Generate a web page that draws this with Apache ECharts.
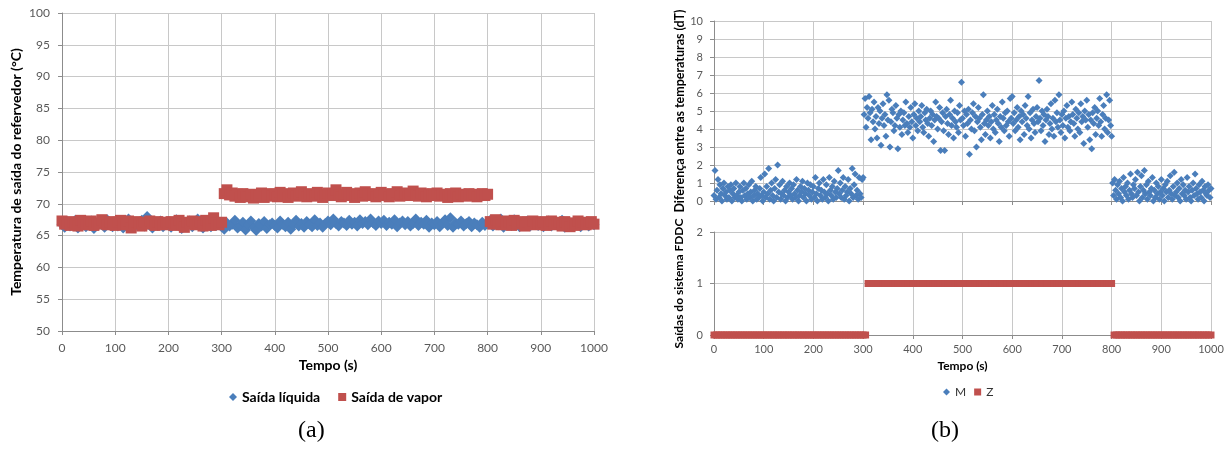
<!DOCTYPE html>
<html><head><meta charset="utf-8">
<script src="https://cdn.jsdelivr.net/npm/echarts@6/dist/echarts.min.js"></script>
<style>html,body{margin:0;padding:0;background:#fff}#c{width:1231px;height:453px}</style>
</head><body><div id="c"></div>
<script>
// ---- sampling steps (s) ----
const stepTemp = 5;   // left chart samples
const stepM = 2;      // dT samples
const stepZ = 5;      // FDDC output samples

// ---- tick labels ----
const tempTicks = [50,55,60,65,70,75,80,85,90,95,100];
const timeTicks = [0,100,200,300,400,500,600,700,800,900,1000];

// ---- (a) Saída líquida, °C, t = 0..1000 step 5 ----
const saidaLiquida = [
66.8,66.3,67.2,66.5,66.9,67.4,66.2,66.7,67.0,66.4,66.9,67.3,66.1,66.6,67.1,66.8,66.3,67.5,66.7,66.4,
67.0,66.5,67.3,66.2,66.9,67.6,66.6,66.3,67.1,66.8,67.4,66.5,68.0,66.7,66.2,67.0,66.6,67.3,66.4,66.9,
67.2,66.3,66.8,67.5,66.6,66.1,67.0,66.7,67.3,66.4,66.9,67.6,66.5,66.2,67.1,66.8,66.4,67.2,66.6,66.9,
66.4,66.0,67.0,66.5,66.8,67.4,66.2,66.6,67.1,65.9,66.7,67.3,66.3,65.8,66.9,66.5,67.2,66.1,66.7,67.0,
66.6,66.2,67.3,66.8,66.4,67.1,66.0,66.7,67.4,66.5,66.9,66.3,67.2,66.8,66.4,67.5,66.6,67.0,66.3,66.9,
67.3,66.7,67.6,66.9,66.5,67.2,67.0,66.6,67.4,66.8,67.1,66.5,67.5,66.9,67.2,66.7,67.6,67.0,66.6,67.3,
66.9,67.4,66.6,67.1,66.8,67.5,66.4,67.0,67.3,66.7,67.2,66.5,66.9,67.6,66.6,67.1,66.8,67.4,66.3,67.0,
66.7,67.2,66.4,66.9,67.5,66.6,67.8,66.3,67.0,66.8,67.3,66.5,66.9,67.2,66.4,67.0,66.7,66.3,67.1,66.6,
66.9,67.4,66.5,67.0,66.7,67.6,66.3,66.9,67.2,66.6,67.5,66.8,66.4,67.1,66.7,67.3,66.5,66.9,67.0,66.6,
67.2,66.4,66.8,67.3,66.5,66.9,67.1,66.6,67.4,66.3,66.8,67.0,66.5,67.2,66.7,66.4,67.1,66.8,66.5,67.0,66.7
];

// ---- (a) Saída de vapor, °C, t = 0..1000 step 5 ----
const saidaVapor = [
67.3,66.8,67.0,66.6,67.2,66.9,66.5,67.4,67.1,66.7,66.9,67.3,66.6,67.0,66.8,67.5,67.1,66.7,67.2,66.9,
66.6,67.1,67.4,66.8,66.7,67.3,66.2,66.9,67.2,67.0,66.5,67.1,66.8,67.3,66.9,66.6,67.2,67.0,66.7,67.1,
66.9,67.2,66.6,67.0,67.4,66.8,66.3,67.1,66.9,67.3,66.7,67.0,67.2,66.5,67.4,66.9,66.6,67.8,67.0,66.7,
67.1,71.6,72.2,71.4,71.7,71.2,71.5,71.0,71.6,71.3,71.1,71.5,70.9,71.4,71.2,71.7,71.0,71.3,71.6,71.2,
71.5,71.1,71.8,71.3,71.6,71.0,71.4,71.7,71.2,71.5,71.9,71.3,71.1,71.6,71.4,71.2,71.8,71.5,71.0,71.4,
71.7,71.3,71.6,72.2,71.4,71.1,71.5,71.8,71.3,71.6,71.0,71.4,71.7,71.2,71.9,71.5,71.3,71.6,71.1,71.4,
71.8,71.3,71.5,71.1,71.6,71.4,71.9,71.2,71.5,71.7,71.3,71.6,72.0,71.4,71.2,71.7,71.5,71.1,71.4,71.6,
71.3,71.7,71.2,71.5,71.4,71.0,71.6,71.3,71.7,71.1,71.5,71.4,71.2,71.6,71.3,71.5,71.1,71.4,71.6,71.3,
71.5,67.2,66.8,67.5,67.0,66.7,67.3,66.9,67.1,66.6,67.4,67.0,66.8,67.2,66.5,67.1,66.9,67.3,66.7,67.0,
66.8,67.2,66.6,67.0,67.3,66.7,66.9,67.1,66.5,67.2,66.8,66.4,67.0,66.6,67.3,66.9,67.1,66.7,67.0,67.2,66.8
];

// ---- (b) M: diferença entre as temperaturas (dT), t = 0..1000 step 2 ----
const serieM = [
0.3,1.7,0.1,0.6,1.2,0.2,0.9,0.4,0.0,0.7,1.0,0.3,0.5,0.1,0.8,0.2,0.6,0.9,0.0,0.4,0.7,0.2,1.0,0.3,0.1,
0.5,0.8,0.2,0.0,0.6,1.0,0.3,0.7,0.1,0.4,0.9,0.2,0.5,1.1,0.0,0.3,0.6,0.8,0.1,0.4,0.2,0.7,1.3,0.3,0.0,
0.5,1.5,0.2,0.8,0.4,1.8,0.1,0.6,1.0,0.3,0.0,0.7,1.2,0.2,2.0,0.5,0.9,0.1,0.4,1.1,0.3,0.6,0.0,0.8,0.2,
0.5,1.0,0.3,0.7,0.1,0.9,0.4,0.2,1.2,0.6,0.0,0.3,0.8,0.5,1.1,0.2,0.7,0.4,0.0,1.0,0.6,0.3,0.9,0.1,0.5,
0.8,0.2,1.3,0.4,0.0,0.7,1.0,0.3,0.6,0.1,1.2,0.5,0.2,0.9,0.4,0.0,1.3,0.6,0.3,0.8,0.1,1.1,0.5,0.2,0.7,
1.7,0.4,1.0,0.2,0.6,1.3,0.1,0.8,0.3,0.5,1.2,0.0,0.7,0.4,1.8,0.2,0.9,1.5,0.3,0.6,0.1,1.3,0.4,0.2,1.2,
1.3,4.8,5.7,4.1,5.2,4.6,5.8,4.9,3.4,5.1,4.4,5.5,4.0,4.7,3.5,5.2,4.3,5.0,3.1,4.6,5.4,4.2,4.8,3.6,5.9,
4.5,5.6,3.0,4.4,5.1,4.9,3.9,4.2,5.3,4.6,2.9,4.8,4.1,5.0,3.7,4.5,4.9,4.2,5.5,4.3,3.8,4.7,4.1,5.2,4.4,
3.5,4.8,5.4,4.2,4.6,3.9,5.0,4.4,4.7,5.3,4.1,3.8,4.9,4.5,5.1,4.3,3.6,4.6,5.0,4.2,4.8,3.3,4.5,5.5,4.7,
4.0,4.6,5.2,2.8,4.4,4.9,3.9,2.8,4.7,5.1,4.3,3.7,4.8,5.6,4.2,4.6,3.5,5.0,4.4,4.1,4.9,3.8,5.3,4.5,6.6,
4.6,4.2,5.0,3.6,4.8,4.3,5.1,2.6,4.5,4.0,4.9,5.4,3.9,4.7,3.0,4.4,5.2,4.6,4.1,3.4,4.8,5.9,4.3,3.7,4.5,
5.0,4.2,4.7,3.5,4.4,5.3,4.0,4.8,3.8,4.5,5.1,4.3,3.3,4.7,4.1,5.5,4.6,3.9,4.9,4.2,5.0,4.4,3.6,5.7,4.6,
5.8,4.3,4.9,3.9,4.5,5.2,4.1,4.7,3.4,5.0,4.4,4.8,3.7,5.3,4.6,4.2,5.8,4.0,4.9,3.5,4.5,5.1,4.3,3.8,4.7,
5.2,4.4,6.7,4.6,3.9,5.0,4.2,4.8,3.3,4.5,5.1,4.7,3.7,4.3,5.4,4.0,4.6,3.6,5.6,4.4,4.9,4.1,5.9,4.5,3.8,
4.8,4.2,5.0,3.5,4.6,5.3,4.1,4.7,3.9,4.4,5.5,4.8,4.3,3.6,5.1,4.6,4.0,4.9,3.8,5.4,4.4,4.7,3.2,5.0,4.5,
5.6,4.1,4.8,3.4,4.5,2.9,4.9,4.3,5.2,3.7,4.6,5.0,4.2,5.7,4.4,3.6,4.8,5.3,4.0,4.6,5.9,3.8,4.5,5.6,4.2,
3.6,1.0,0.3,1.2,0.6,0.1,0.9,0.4,1.1,0.2,0.7,0.0,1.3,0.5,0.8,0.3,1.0,0.1,0.6,1.5,0.4,0.2,0.9,0.7,1.2,
0.3,1.6,0.5,0.0,0.8,1.4,0.2,0.6,1.7,0.4,0.9,0.1,1.1,0.5,0.3,0.7,1.3,0.0,0.6,0.2,1.0,0.4,0.8,0.1,0.5,
1.2,0.3,0.7,0.0,0.9,0.5,1.1,0.2,0.6,1.4,0.4,0.1,0.8,1.6,0.3,0.5,1.0,0.2,0.7,0.0,1.2,0.4,0.9,0.3,0.6,
0.1,1.3,0.5,0.8,0.2,0.0,0.6,1.0,0.3,1.5,0.7,0.4,0.1,0.9,0.5,0.2,1.1,0.6,0.0,0.8,0.4,0.3,0.9,0.6,0.2,
0.7
];

// ---- (b) Z: saídas do sistema FDDC, t = 0..1000 step 5 ----
const serieZ = [
0,0,0,0,0,0,0,0,0,0,0,0,0,0,0,0,0,0,0,0,
0,0,0,0,0,0,0,0,0,0,0,0,0,0,0,0,0,0,0,0,
0,0,0,0,0,0,0,0,0,0,0,0,0,0,0,0,0,0,0,0,
0,0,1,1,1,1,1,1,1,1,1,1,1,1,1,1,1,1,1,1,
1,1,1,1,1,1,1,1,1,1,1,1,1,1,1,1,1,1,1,1,
1,1,1,1,1,1,1,1,1,1,1,1,1,1,1,1,1,1,1,1,
1,1,1,1,1,1,1,1,1,1,1,1,1,1,1,1,1,1,1,1,
1,1,1,1,1,1,1,1,1,1,1,1,1,1,1,1,1,1,1,1,
1,0,0,0,0,0,0,0,0,0,0,0,0,0,0,0,0,0,0,0,
0,0,0,0,0,0,0,0,0,0,0,0,0,0,0,0,0,0,0,0,0
];

const pair = (arr, step) => arr.map((v, i) => [i * step, v]);

const FONT = 'Lato, "Liberation Sans", sans-serif';
const LBL = '#595959';
const GRID = '#c8c8c8';
const AX = '#8c8c8c';
const BLUE = '#4A7EBB';
const RED = '#C0504D';

function xAx(gi, showLbl, name, fs, nfs, margin, gap) {
  return {
    type: 'value', gridIndex: gi, min: timeTicks[0], max: timeTicks[timeTicks.length-1], interval: 100,
    axisLine: {show: true, lineStyle: {color: AX}},
    axisTick: {show: true, length: 4, lineStyle: {color: AX}},
    axisLabel: {show: showLbl, color: LBL, fontSize: fs, fontFamily: FONT, margin: margin,
                formatter: v => String(v)},
    splitLine: {show: true, lineStyle: {color: GRID}},
    name: name, nameLocation: 'middle', nameGap: gap,
    nameTextStyle: {fontFamily: FONT, fontWeight: 'bold', fontSize: nfs, color: '#000'}
  };
}
function yAx(gi, min, max, interval, name, fs, nfs, margin, gap) {
  return {
    type: 'value', gridIndex: gi, min: min, max: max, interval: interval,
    axisLine: {show: true, lineStyle: {color: AX}},
    axisTick: {show: true, length: 4, lineStyle: {color: AX}},
    axisLabel: {color: LBL, fontSize: fs, fontFamily: FONT, margin: margin},
    splitLine: {show: true, lineStyle: {color: GRID}},
    name: name, nameLocation: 'middle', nameGap: gap, nameRotate: 90,
    nameTextStyle: {fontFamily: FONT, fontWeight: 'bold', fontSize: nfs, color: '#000'}
  };
}

const chart = echarts.init(document.getElementById('c'), null, {renderer: 'canvas'});
chart.setOption({
  animation: false,
  backgroundColor: '#fff',
  grid: [
    {left: 62, top: 13, width: 532, height: 318},
    {left: 714, top: 21, width: 497, height: 180},
    {left: 714, top: 232, width: 497, height: 103}
  ],
  xAxis: [
    xAx(0, true, 'Tempo (s)', 12, 14, 11, 27),
    xAx(1, false, '', 11, 12, 9, 20),
    xAx(2, true, 'Tempo (s)', 11, 12, 9, 25)
  ],
  yAxis: [
    yAx(0, tempTicks[0], tempTicks[tempTicks.length-1], 5, 'Temperatura de saída do refervedor (°C)', 12, 14, 12, 39),
    yAx(1, 0, 10, 1, 'Diferença entre as temperaturas (dT)', 11, 12.5, 11, 27),
    yAx(2, 0, 2, 1, 'Saídas do sistema FDDC', 11, 12, 11, 29)
  ],
  legend: [
    {data: [{name: 'Saída líquida', icon: 'diamond'}, {name: 'Saída de vapor', icon: 'rect'}],
     left: 224, top: 385, itemWidth: 8, itemHeight: 8, itemGap: 18,
     textStyle: {fontFamily: FONT, fontWeight: 'bold', fontSize: 14, color: '#000'}},
    {data: [{name: 'M', icon: 'diamond'}, {name: 'Z', icon: 'rect'}],
     left: 938, top: 381, itemWidth: 7, itemHeight: 7, itemGap: 8,
     textStyle: {fontFamily: FONT, fontSize: 12, color: '#333'}}
  ],
  graphic: [
    {type: 'text', left: 298, top: 419, style: {text: '(a)', font: '24px "Liberation Serif", serif', fill: '#000'}},
    {type: 'text', left: 931, top: 419, style: {text: '(b)', font: '24px "Liberation Serif", serif', fill: '#000'}}
  ],
  series: [
    {type: 'scatter', name: 'Saída líquida', xAxisIndex: 0, yAxisIndex: 0, symbol: 'diamond', symbolSize: 11,
     itemStyle: {color: BLUE, opacity: 1}, data: pair(saidaLiquida, stepTemp)},
    {type: 'scatter', name: 'Saída de vapor', xAxisIndex: 0, yAxisIndex: 0, symbol: 'rect', symbolSize: 11,
     itemStyle: {color: RED, opacity: 1}, data: pair(saidaVapor, stepTemp)},
    {type: 'scatter', name: 'M', xAxisIndex: 1, yAxisIndex: 1, symbol: 'diamond', symbolSize: 7,
     itemStyle: {color: BLUE, opacity: 1}, data: pair(serieM, stepM)},
    {type: 'scatter', name: 'Z', xAxisIndex: 2, yAxisIndex: 2, symbol: 'rect', symbolSize: 7,
     itemStyle: {color: RED, opacity: 1}, data: pair(serieZ, stepZ)}
  ]
});
</script>
</body></html>
